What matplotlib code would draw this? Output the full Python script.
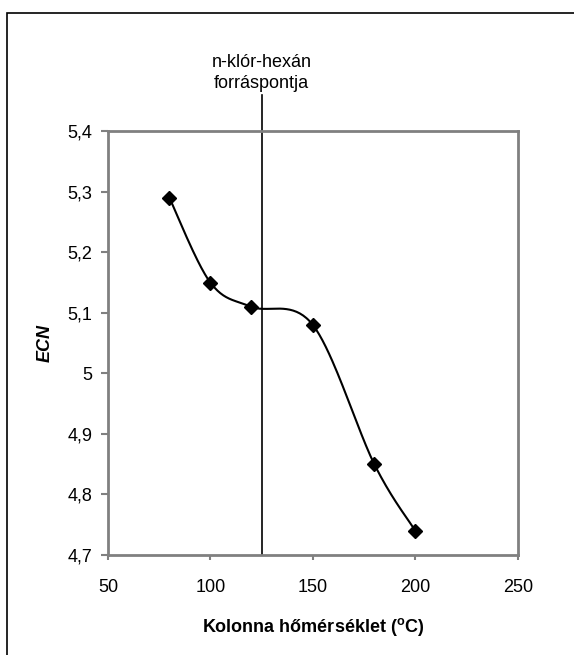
import numpy as np
import matplotlib
matplotlib.use("Agg")
import matplotlib.pyplot as plt
import matplotlib.patches as patches

plt.rcParams['font.family'] = ['Liberation Sans', 'DejaVu Sans']

# data
temperature = [80, 100, 120, 150, 180, 200]
ecn = [5.29, 5.15, 5.11, 5.08, 4.85, 4.74]
boiling_point = 125
boiling_label = "n-klór-hexán\nforráspontja"

xticks = [50, 100, 150, 200, 250]
yticks = [4.7, 4.8, 4.9, 5.0, 5.1, 5.2, 5.3, 5.4]
ytick_labels = ["4,7", "4,8", "4,9", "5", "5,1", "5,2", "5,3", "5,4"]


def smooth(xs, ys, xr, yr, n=40):
    # Excel-like smoothed line: cubic bezier with catmull-rom control points,
    # computed in normalised axis units
    px = (np.asarray(xs, float) - xr[0]) / (xr[1] - xr[0])
    py = (np.asarray(ys, float) - yr[0]) / (yr[1] - yr[0])
    pts = np.column_stack([px, py])
    out = []
    for i in range(len(pts) - 1):
        p0 = pts[max(i - 1, 0)]
        p1 = pts[i]
        p2 = pts[i + 1]
        p3 = pts[min(i + 2, len(pts) - 1)]
        c1 = p1 + (p2 - p0) / 6
        c2 = p2 - (p3 - p1) / 6
        t = np.linspace(0, 1, n)[:, None]
        seg = ((1 - t) ** 3) * p1 + 3 * ((1 - t) ** 2) * t * c1 + 3 * (1 - t) * t ** 2 * c2 + t ** 3 * p2
        out.append(seg)
    s = np.vstack(out)
    return s[:, 0] * (xr[1] - xr[0]) + xr[0], s[:, 1] * (yr[1] - yr[0]) + yr[0]


fig = plt.figure(figsize=(5.74, 6.55), dpi=100)
ax = fig.add_axes([0.188, 0.1527, 0.714, 0.647])

xlim = (50, 250)
ylim = (4.7, 5.4)
ax.set_xlim(*xlim)
ax.set_ylim(*ylim)

sx, sy = smooth(temperature, ecn, xlim, ylim)
ax.plot(sx, sy, color='black', lw=1.5, zorder=3)
ax.plot(temperature, ecn, linestyle='none', marker='D', markersize=7,
        color='black', zorder=4)

# boiling point line, runs above the plot area up to the label
ax.plot([boiling_point, boiling_point], [0, 1.086], color='black', lw=1.2,
        transform=ax.get_xaxis_transform(), clip_on=False, zorder=2)
ax.text(boiling_point, 1.092, boiling_label, transform=ax.get_xaxis_transform(),
        ha='center', va='bottom', fontsize=13, linespacing=1.35)

ax.set_xticks(xticks)
ax.set_xticklabels([str(v) for v in xticks])
ax.set_yticks(yticks)
ax.set_yticklabels(ytick_labels)
ax.tick_params(direction='out', width=1.5, color='#808080', labelsize=13)
ax.tick_params(axis='x', length=3.5, pad=13.5)
ax.tick_params(axis='y', length=5, pad=6)

for sp in ax.spines.values():
    sp.set_color('#808080')
    sp.set_linewidth(2)

ax.set_xlabel("Kolonna hőmérséklet ($\\mathregular{^o}$C)", fontsize=13,
              fontweight='bold', labelpad=15)
ax.set_ylabel("ECN", fontsize=13, fontweight='bold', fontstyle='italic',
              labelpad=10)

# outer chart frame (right and bottom edges fall outside the picture)
fig.patches.append(patches.Rectangle((0.012, -0.1), 1.2, 1.08, fill=False,
                                     edgecolor='black', lw=1.2,
                                     transform=fig.transFigure))

fig.savefig('out.png', dpi=100)
